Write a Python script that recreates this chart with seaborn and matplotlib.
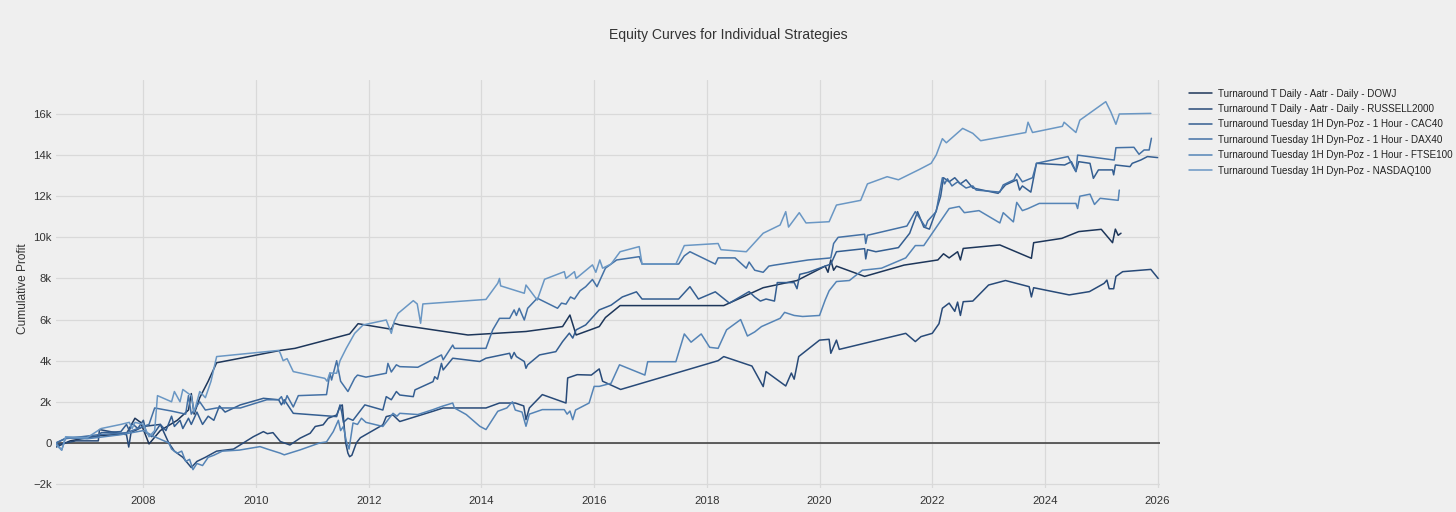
import numpy as np
import pandas as pd
import seaborn as sns
import matplotlib
matplotlib.use("Agg")
import matplotlib.pyplot as plt
from matplotlib.ticker import FuncFormatter

# ---------------- data (decimal year, cumulative profit in thousands) ----------------
strategies = [
    "Turnaround T Daily - Aatr - Daily - DOWJ",
    "Turnaround T Daily - Aatr - Daily - RUSSELL2000",
    "Turnaround Tuesday 1H Dyn-Poz - 1 Hour - CAC40",
    "Turnaround Tuesday 1H Dyn-Poz - 1 Hour - DAX40",
    "Turnaround Tuesday 1H Dyn-Poz - 1 Hour - FTSE100",
    "Turnaround Tuesday 1H Dyn-Poz - NASDAQ100",
]

dowj_x = [2006.45, 2006.7, 2007.2, 2007.5, 2007.7, 2007.85, 2007.95, 2008.1, 2008.3, 2008.6, 2008.8,
          2008.85, 2008.9, 2009.0, 2009.15, 2009.3, 2009.72, 2010.43, 2010.69, 2011.66, 2011.81, 2012.4,
          2012.45, 2012.55, 2013.76, 2014.79, 2015.44, 2015.57, 2015.68, 2016.09, 2016.2, 2016.46, 2018.3,
          2019.0, 2019.6, 2020.1, 2020.15, 2020.2, 2020.25, 2020.3, 2020.8, 2021.5, 2022.1, 2022.2, 2022.3,
          2022.45, 2022.5, 2022.55, 2023.2, 2023.76, 2023.8, 2024.3, 2024.6, 2025.0, 2025.2, 2025.25,
          2025.3, 2025.35]
dowj_y = [-0.2, 0.1, 0.35, 0.4, 0.45, 1.2, 1.0, -0.05, 0.6, 1.1, 1.6,
          2.4, 1.4, 2.2, 3.0, 3.9, 4.12, 4.5, 4.6, 5.3, 5.8, 5.53,
          5.82, 5.74, 5.25, 5.42, 5.66, 6.22, 5.25, 5.66, 6.1, 6.68, 6.68,
          7.55, 7.9, 8.6, 8.3, 8.9, 8.4, 8.6, 8.1, 8.65, 8.9, 9.2, 9.0,
          9.3, 8.9, 9.46, 9.63, 8.98, 9.74, 9.95, 10.28, 10.39, 9.74, 10.4,
          10.1, 10.2]

russell_x = [2006.45, 2006.8, 2007.2, 2007.22, 2007.7, 2007.74, 2007.78, 2008.0, 2008.3, 2008.45, 2008.55,
             2008.7, 2008.85, 2008.95, 2009.1, 2009.3, 2009.6, 2009.95, 2010.13, 2010.2, 2010.3, 2010.43,
             2010.6, 2010.78, 2010.96, 2011.05, 2011.19, 2011.28, 2011.43, 2011.49, 2011.53, 2011.59,
             2011.63, 2011.66, 2011.7, 2011.78, 2011.85, 2012.25, 2012.31, 2012.43, 2012.55, 2013.14,
             2013.32, 2014.08, 2014.32, 2014.6, 2014.75, 2014.79, 2014.85, 2015.08, 2015.5, 2015.53,
             2015.7, 2015.95, 2016.09, 2016.15, 2016.47, 2018.2, 2018.3, 2018.8, 2019.0, 2019.05, 2019.4,
             2019.5, 2019.55, 2019.63, 2020.0, 2020.17, 2020.2, 2020.3, 2020.35, 2021.53, 2021.7, 2021.8,
             2022.0, 2022.12, 2022.18, 2022.3, 2022.4, 2022.45, 2022.5, 2022.55, 2022.72, 2023.0, 2023.3,
             2023.72, 2023.76, 2023.8, 2024.43, 2024.79, 2025.05, 2025.1, 2025.14, 2025.22, 2025.26,
             2025.38, 2025.88, 2026.01]
russell_y = [-0.1, 0.1, 0.1, 0.65, 0.4, -0.2, 0.5, 0.8, 0.9, 0.0, -0.4,
             -0.7, -1.2, -0.9, -0.7, -0.4, -0.3, 0.3, 0.55, 0.45, 0.5, 0.07,
             -0.1, 0.23, 0.47, 0.8, 0.88, 1.2, 1.36, 1.77, 1.85, 0.0,
             -0.5, -0.67, -0.6, 0.0, 0.25, 0.88, 1.28, 1.36, 1.04, 1.54,
             1.7, 1.7, 1.94, 1.94, 1.8, 1.13, 1.7, 2.35, 1.94, 3.16,
             3.32, 3.3, 3.6, 3.0, 2.6, 4.0, 4.2, 3.74, 2.74, 3.47, 2.77,
             3.4, 3.1, 4.2, 5.0, 5.04, 4.36, 5.0, 4.55, 5.33, 4.93, 5.17,
             5.33, 5.8, 6.55, 6.8, 6.4, 6.85, 6.2, 6.87, 6.9, 7.68, 7.9,
             7.6, 7.1, 7.55, 7.2, 7.36, 7.76, 7.92, 7.5, 7.5, 8.1,
             8.33, 8.44, 8.0]

cac_x = [2006.45, 2006.65, 2007.2, 2007.25, 2007.6, 2007.7, 2007.75, 2007.8, 2007.9, 2008.0, 2008.05,
         2008.15, 2008.3, 2008.4, 2008.5, 2008.55, 2008.65, 2008.7, 2008.8, 2008.85, 2008.95, 2009.05,
         2009.15, 2009.25, 2009.35, 2009.45, 2009.72, 2010.13, 2010.4, 2010.45, 2010.5, 2010.66, 2011.43,
         2011.49, 2011.52, 2011.55, 2011.63, 2011.72, 2011.93, 2012.25, 2012.31, 2012.4, 2012.49, 2012.55,
         2012.79, 2012.82, 2013.14, 2013.17, 2013.22, 2013.29, 2013.32, 2013.49, 2013.97, 2014.08, 2014.5,
         2014.53, 2014.58, 2014.62, 2014.76, 2014.79, 2014.82, 2015.03, 2015.32, 2015.44, 2015.56, 2015.62,
         2015.68, 2015.85, 2016.09, 2016.3, 2016.5, 2016.75, 2016.85, 2017.5, 2017.7, 2017.85, 2018.15,
         2018.4, 2018.75, 2018.85, 2018.95, 2019.05, 2019.2, 2019.25, 2019.55, 2019.6, 2019.65, 2019.8,
         2020.2, 2020.3, 2020.8, 2020.82, 2020.85, 2021.0, 2021.4, 2021.6, 2021.74, 2021.85, 2021.95,
         2022.07, 2022.15, 2022.2, 2022.3, 2022.4, 2022.5, 2022.6, 2022.72, 2023.17, 2023.3, 2023.5,
         2023.55, 2023.6, 2023.75, 2023.85, 2024.35, 2024.47, 2024.55, 2024.6, 2024.8, 2024.86, 2024.95,
         2025.2, 2025.22, 2025.25, 2025.51, 2025.55, 2025.7, 2025.82, 2026.0]
cac_y = [0.0, 0.25, 0.3, 0.5, 0.55, 0.9, 0.6, 0.95, 0.7, 1.1, 0.5,
         0.3, 0.9, 0.6, 1.3, 0.8, 1.1, 0.7, 1.2, 0.9, 1.5, 0.9,
         1.3, 1.1, 1.8, 1.5, 1.85, 2.17, 2.1, 1.85, 2.1, 1.44, 1.28,
         1.85, 1.5, 1.0, 1.2, 1.1, 1.85, 1.6, 2.25, 2.1, 2.5, 2.33,
         2.25, 2.58, 2.98, 3.22, 3.1, 3.87, 3.55, 4.12, 3.96, 4.12, 4.36,
         4.1, 4.4, 4.2, 3.96, 3.63, 3.8, 4.28, 4.44, 4.93, 5.34, 5.1,
         5.5, 5.74, 6.47, 6.7, 7.1, 7.35, 7.0, 7.0, 7.6, 7.0, 7.35,
         6.8, 7.36, 7.1, 6.9, 7.0, 6.9, 7.8, 7.8, 7.5, 8.2, 8.3,
         8.7, 9.3, 9.45, 8.95, 9.4, 9.3, 9.5, 10.2, 11.25, 10.5, 10.4,
         11.3, 12.0, 12.9, 12.7, 12.9, 12.6, 12.8, 12.4, 12.14, 12.55, 12.8,
         12.3, 12.5, 12.2, 13.6, 13.52, 13.68, 13.2, 13.68, 13.6, 12.87, 13.28,
         13.28, 13.04, 13.52, 13.44, 13.6, 13.76, 13.93, 13.88]

dax_x = [2006.45, 2006.6, 2007.2, 2007.7, 2008.1, 2008.2, 2008.5, 2008.75, 2008.8, 2008.85, 2009.0,
         2009.1, 2009.3, 2009.72, 2010.19, 2010.4, 2010.45, 2010.5, 2010.55, 2010.66, 2010.75, 2011.25,
         2011.31, 2011.34, 2011.43, 2011.5, 2011.63, 2011.75, 2011.8, 2011.95, 2012.31, 2012.34, 2012.4,
         2012.49, 2012.55, 2012.87, 2013.29, 2013.32, 2013.49, 2013.52, 2014.08, 2014.2, 2014.32, 2014.5,
         2014.58, 2014.62, 2014.67, 2014.76, 2014.82, 2014.99, 2015.35, 2015.42, 2015.5, 2015.58, 2015.65,
         2015.75, 2015.85, 2015.97, 2016.05, 2016.2, 2016.4, 2016.8, 2016.85, 2017.5, 2017.6, 2017.7,
         2018.15, 2018.2, 2018.5, 2018.7, 2018.75, 2018.85, 2019.0, 2019.1, 2019.2, 2019.8, 2020.2,
         2020.25, 2020.33, 2020.8, 2020.82, 2020.85, 2021.55, 2021.7, 2021.88, 2021.92, 2022.07, 2022.18,
         2022.22, 2022.27, 2022.35, 2022.45, 2022.6, 2022.72, 2022.78, 2023.2, 2023.26, 2023.45, 2023.5,
         2023.6, 2023.78, 2023.85, 2024.41, 2024.5, 2024.55, 2024.58, 2025.23, 2025.26, 2025.58, 2025.67,
         2025.76, 2025.85, 2025.89]
dax_y = [0.0, 0.2, 0.4, 0.5, 0.9, 1.7, 1.55, 1.4, 2.3, 1.4, 2.0,
         1.6, 1.7, 1.7, 2.1, 2.1, 2.25, 1.9, 2.3, 1.75, 2.3, 2.35,
         3.4, 3.06, 4.0, 3.0, 2.5, 3.15, 3.3, 3.2, 3.39, 3.87, 3.45,
         3.8, 3.71, 3.68, 4.28, 4.04, 4.76, 4.6, 4.6, 5.5, 6.06, 6.06,
         6.47, 6.2, 6.55, 5.98, 6.55, 7.04, 6.55, 6.8, 6.75, 7.1, 7.0,
         7.4, 7.6, 7.95, 7.6, 8.5, 8.9, 9.06, 8.7, 8.7, 9.1, 9.3,
         8.7, 9.0, 9.0, 8.5, 8.8, 8.4, 8.3, 8.6, 8.65, 8.9, 9.0,
         9.7, 10.0, 10.15, 9.7, 10.1, 10.55, 11.25, 10.5, 10.8, 11.25, 12.9,
         12.6, 12.85, 12.5, 12.7, 12.4, 12.5, 12.3, 12.2, 12.55, 12.8, 13.1,
         12.7, 12.9, 13.6, 13.93, 13.44, 13.2, 14.0, 13.76, 14.36, 14.38, 14.04,
         14.25, 14.25, 14.82]

ftse_x = [2006.45, 2006.55, 2006.62, 2007.0, 2007.3, 2007.6, 2008.0, 2008.2, 2008.45, 2008.5, 2008.6,
          2008.68, 2008.75, 2008.82, 2008.88, 2008.95, 2009.05, 2009.15, 2009.25, 2009.4, 2009.7, 2010.07,
          2010.2, 2010.43, 2010.5, 2010.78, 2011.13, 2011.25, 2011.37, 2011.46, 2011.5, 2011.55, 2011.6,
          2011.65, 2011.72, 2011.8, 2011.87, 2011.95, 2012.25, 2012.43, 2012.5, 2012.55, 2012.87, 2013.14,
          2013.3, 2013.49, 2013.52, 2013.73, 2013.97, 2014.08, 2014.29, 2014.45, 2014.55, 2014.6, 2014.72,
          2014.79, 2014.85, 2015.08, 2015.47, 2015.52, 2015.57, 2015.62, 2015.67, 2015.91, 2016.0, 2016.09,
          2016.3, 2016.45, 2016.9, 2016.95, 2017.45, 2017.6, 2017.72, 2017.9, 2018.05, 2018.2, 2018.35,
          2018.6, 2018.72, 2018.85, 2018.97, 2019.3, 2019.38, 2019.55, 2019.7, 2020.0, 2020.1, 2020.17,
          2020.3, 2020.53, 2020.76, 2021.1, 2021.53, 2021.7, 2021.85, 2022.0, 2022.3, 2022.48, 2022.57,
          2022.83, 2023.2, 2023.26, 2023.44, 2023.5, 2023.6, 2023.7, 2023.9, 2024.55, 2024.58, 2024.62,
          2024.8, 2024.88, 2024.98, 2025.3, 2025.32]
ftse_y = [0.0, -0.35, 0.25, 0.2, 0.3, 0.4, 0.6, 0.3, 0.0, -0.3, -0.5,
          -0.4, -0.9, -0.8, -1.3, -1.0, -1.1, -0.7, -0.6, -0.4, -0.35, -0.18,
          -0.3, -0.5, -0.58, -0.34, 0.0, 0.05, 0.55, 1.1, 0.6, 0.8, 0.1,
          -0.3, 0.97, 0.9, 1.2, 1.0, 0.8, 1.44, 1.3, 1.44, 1.38, 1.62,
          1.78, 1.94, 1.7, 1.38, 0.81, 0.65, 1.54, 1.7, 2.0, 1.6, 1.5,
          0.81, 1.4, 1.62, 1.62, 1.4, 1.55, 1.13, 1.6, 1.94, 2.75, 2.75,
          2.9, 3.8, 3.3, 3.95, 3.95, 5.3, 4.9, 5.3, 4.65, 4.6, 5.5,
          6.0, 5.2, 5.4, 5.66, 6.06, 6.35, 6.2, 6.15, 6.2, 6.95, 7.4,
          7.85, 7.9, 8.4, 8.5, 9.0, 9.6, 9.6, 10.2, 11.4, 11.5, 11.2,
          11.3, 10.7, 11.2, 10.75, 11.7, 11.3, 11.4, 11.65, 11.65, 11.4, 12.0,
          12.1, 11.6, 11.9, 11.8, 12.3]

nasdaq_x = [2006.45, 2006.55, 2006.62, 2007.0, 2007.25, 2007.6, 2007.75, 2007.8, 2007.85, 2008.0, 2008.1,
            2008.2, 2008.25, 2008.5, 2008.55, 2008.65, 2008.7, 2008.85, 2008.9, 2009.0, 2009.1, 2009.2,
            2009.3, 2010.4, 2010.43, 2010.48, 2010.55, 2010.66, 2011.22, 2011.26, 2011.31, 2011.43, 2011.49,
            2011.6, 2011.75, 2011.9, 2012.31, 2012.4, 2012.45, 2012.52, 2012.79, 2012.86, 2012.92, 2012.96,
            2014.08, 2014.29, 2014.32, 2014.34, 2014.76, 2014.79, 2014.99, 2015.12, 2015.47, 2015.5, 2015.65,
            2015.68, 2015.97, 2016.03, 2016.1, 2016.15, 2016.3, 2016.46, 2016.8, 2016.85, 2017.45, 2017.6,
            2018.2, 2018.25, 2018.7, 2019.0, 2019.3, 2019.4, 2019.45, 2019.64, 2019.76, 2020.17, 2020.3,
            2020.73, 2020.85, 2021.2, 2021.4, 2021.77, 2021.98, 2022.07, 2022.18, 2022.25, 2022.54, 2022.72,
            2022.86, 2023.66, 2023.7, 2023.78, 2024.31, 2024.34, 2024.55, 2024.62, 2025.08, 2025.17, 2025.26,
            2025.32, 2025.88]
nasdaq_y = [-0.1, -0.35, 0.3, 0.25, 0.7, 0.9, 1.0, 0.7, 1.0, 0.9, 0.3,
            0.6, 2.3, 2.0, 2.5, 2.0, 2.6, 2.3, 1.5, 2.5, 2.2, 3.0,
            4.2, 4.5, 4.36, 4.0, 4.1, 3.47, 3.14, 3.0, 3.4, 3.39, 4.0,
            4.6, 5.33, 5.74, 5.98, 5.33, 5.9, 6.3, 6.92, 6.76, 5.82, 6.76,
            6.98, 7.77, 8.0, 7.64, 7.28, 7.68, 6.95, 7.96, 8.33, 8.0, 8.33,
            8.0, 8.66, 8.3, 8.9, 8.5, 8.7, 9.3, 9.55, 8.7, 8.7, 9.6,
            9.7, 9.4, 9.3, 10.2, 10.6, 11.25, 10.5, 11.2, 10.7, 10.76, 11.57,
            11.8, 12.6, 12.95, 12.8, 13.3, 13.6, 14.0, 14.8, 14.6, 15.3, 15.06,
            14.7, 15.1, 15.6, 15.1, 15.4, 15.6, 15.1, 15.7, 16.6, 16.1, 15.5,
            16.0, 16.03]

series_x = [dowj_x, russell_x, cac_x, dax_x, ftse_x, nasdaq_x]
series_y = [dowj_y, russell_y, cac_y, dax_y, ftse_y, nasdaq_y]

palette = ["#1d365a", "#284a78", "#345e91", "#4471a5", "#5584b6", "#6a97c4"]

y_ticks = [-2000, 0, 2000, 4000, 6000, 8000, 10000, 12000, 14000, 16000]
x_ticks = [2008, 2010, 2012, 2014, 2016, 2018, 2020, 2022, 2024, 2026]

# ---------------- build long-form frame ----------------
frames = []
for name, xs, ys in zip(strategies, series_x, series_y):
    frames.append(pd.DataFrame({
        "year": xs,
        "profit": np.array(ys) * 1000.0,
        "strategy": name,
    }))
df = pd.concat(frames, ignore_index=True)

# ---------------- plot ----------------
sns.set_theme(style="white")
plt.rcParams["font.family"] = ["Liberation Sans", "DejaVu Sans"]
bg = "#efefef"

fig = plt.figure(figsize=(14.56, 5.12), dpi=100, facecolor=bg)
ax = fig.add_axes([0.0385, 0.047, 0.7585, 0.797])
ax.set_facecolor(bg)

sns.lineplot(data=df, x="year", y="profit", hue="strategy", hue_order=strategies,
             palette=palette, estimator=None, sort=False, linewidth=1.1, ax=ax, legend=False)

ax.axhline(0, color="#444444", linewidth=1.2, zorder=1)

ax.set_xlim(2006.45, 2026.05)
ax.set_ylim(-2190, 17660)
ax.set_xticks(x_ticks)
ax.set_yticks(y_ticks)


def kfmt(v, pos):
    if v == 0:
        return "0"
    s = f"{abs(v) / 1000:g}k"
    return ("\u2212" + s) if v < 0 else s


ax.yaxis.set_major_formatter(FuncFormatter(kfmt))
ax.xaxis.set_major_formatter(FuncFormatter(lambda v, p: f"{int(round(v))}"))
ax.grid(True, color="#d9d9d9", linewidth=0.9)
ax.set_axisbelow(True)
for sp in ax.spines.values():
    sp.set_visible(False)
ax.tick_params(axis="both", length=0, labelsize=8.2, colors="#333333", pad=3)
ax.tick_params(axis="x", pad=6)
ax.set_xlabel("")
ax.set_ylabel("")
fig.text(0.0155, 0.436, "Cumulative Profit", rotation=90, ha="center", va="center",
         fontsize=8.6, color="#333333")

fig.text(0.5, 0.932, "Equity Curves for Individual Strategies", ha="center", va="center",
         fontsize=10.1, color="#333333")

handles = [plt.Line2D([0], [0], color=c, linewidth=1.1) for c in palette]
leg = fig.legend(handles, strategies, loc="upper left", bbox_to_anchor=(0.8163, 0.827),
                 frameon=False, fontsize=7.1, handlelength=2.4, handletextpad=0.55,
                 labelspacing=0.55, borderaxespad=0, borderpad=0)
for t in leg.get_texts():
    t.set_color("#222222")

fig.savefig("out.png", dpi=100, facecolor=bg)
